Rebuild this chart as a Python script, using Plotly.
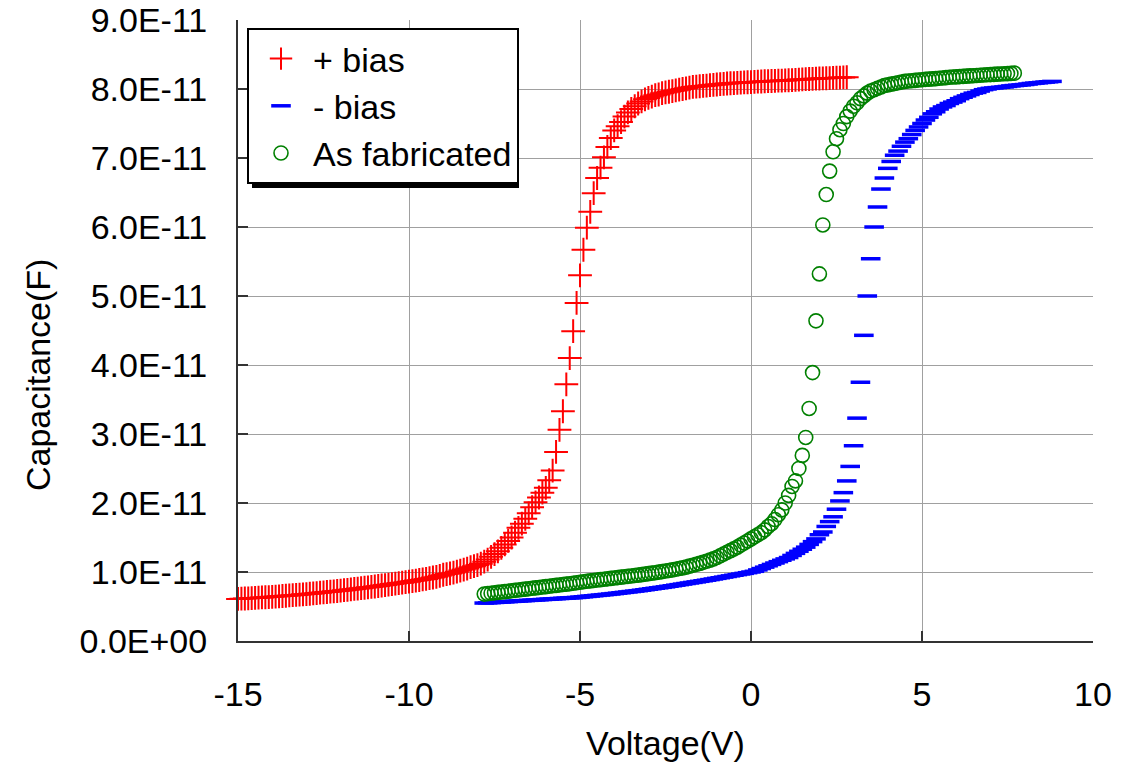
import numpy as np
import plotly.graph_objects as go

# ---------------- data (capacitance in units of 1E-11 F) ----------------
pos_v = [-15.0,-14.9,-14.8,-14.7,-14.6,-14.5,-14.4,-14.3,-14.2,-14.1,
         -14.0,-13.9,-13.8,-13.7,-13.6,-13.5,-13.4,-13.3,-13.2,-13.1,
         -13.0,-12.9,-12.8,-12.7,-12.6,-12.5,-12.4,-12.3,-12.2,-12.1,
         -12.0,-11.9,-11.8,-11.7,-11.6,-11.5,-11.4,-11.3,-11.2,-11.1,
         -11.0,-10.9,-10.8,-10.7,-10.6,-10.5,-10.4,-10.3,-10.2,-10.1,
         -10.0,-9.9,-9.8,-9.7,-9.6,-9.5,-9.4,-9.3,-9.2,-9.1,
         -9.0,-8.9,-8.8,-8.7,-8.6,-8.5,-8.4,-8.3,-8.2,-8.1,
         -8.0,-7.9,-7.8,-7.7,-7.6,-7.5,-7.4,-7.3,-7.2,-7.1,
         -7.0,-6.9,-6.8,-6.7,-6.6,-6.5,-6.4,-6.3,-6.2,-6.1,
         -6.0,-5.9,-5.8,-5.7,-5.6,-5.5,-5.4,-5.3,-5.2,-5.1,
         -5.0,-4.9,-4.8,-4.7,-4.6,-4.5,-4.4,-4.3,-4.2,-4.1,
         -4.0,-3.9,-3.8,-3.7,-3.6,-3.5,-3.4,-3.3,-3.2,-3.1,
         -3.0,-2.9,-2.8,-2.7,-2.6,-2.5,-2.4,-2.3,-2.2,-2.1,
         -2.0,-1.9,-1.8,-1.7,-1.6,-1.5,-1.4,-1.3,-1.2,-1.1,
         -1.0,-0.9,-0.8,-0.7,-0.6,-0.5,-0.4,-0.3,-0.2,-0.1,
         0.0,0.1,0.2,0.3,0.4,0.5,0.6,0.7,0.8,0.9,
         1.0,1.1,1.2,1.3,1.4,1.5,1.6,1.7,1.8,1.9,
         2.0,2.1,2.2,2.3,2.4,2.5,2.6,2.7,2.8]
pos_c = [0.61,0.613,0.616,0.619,0.622,0.625,0.628,0.631,0.634,0.637,
         0.64,0.644,0.648,0.652,0.656,0.66,0.664,0.668,0.672,0.676,
         0.68,0.685,0.69,0.695,0.70,0.705,0.71,0.715,0.72,0.725,
         0.73,0.736,0.742,0.748,0.754,0.76,0.766,0.772,0.778,0.784,
         0.79,0.797,0.804,0.811,0.818,0.825,0.832,0.839,0.846,0.853,
         0.86,0.868,0.876,0.884,0.892,0.90,0.91,0.92,0.93,0.945,
         0.96,0.97,0.98,0.99,1.005,1.02,1.035,1.05,1.07,1.085,
         1.10,1.12,1.15,1.18,1.22,1.26,1.30,1.35,1.40,1.45,
         1.50,1.57,1.64,1.70,1.77,1.85,1.94,2.01,2.08,2.15,
         2.22,2.33,2.47,2.74,3.06,3.33,3.72,4.10,4.49,4.90,
         5.30,5.67,5.99,6.22,6.49,6.71,6.86,7.01,7.16,7.29,
         7.40,7.46,7.52,7.60,7.66,7.71,7.75,7.79,7.82,7.85,
         7.87,7.89,7.91,7.92,7.94,7.95,7.96,7.97,7.98,7.99,
         8.00,8.01,8.02,8.03,8.035,8.04,8.045,8.05,8.055,8.06,
         8.065,8.07,8.075,8.08,8.083,8.086,8.089,8.092,8.095,8.098,
         8.10,8.103,8.106,8.109,8.112,8.114,8.116,8.118,8.12,8.122,
         8.124,8.127,8.13,8.133,8.136,8.139,8.142,8.145,8.148,8.15,
         8.152,8.154,8.156,8.158,8.16,8.163,8.166,8.168,8.17]

neg_v = [-7.8,-7.7,-7.6,-7.5,-7.4,-7.3,-7.2,-7.1,-7.0,-6.9,
         -6.8,-6.7,-6.6,-6.5,-6.4,-6.3,-6.2,-6.1,-6.0,-5.9,
         -5.8,-5.7,-5.6,-5.5,-5.4,-5.3,-5.2,-5.1,-5.0,-4.9,
         -4.8,-4.7,-4.6,-4.5,-4.4,-4.3,-4.2,-4.1,-4.0,-3.9,
         -3.8,-3.7,-3.6,-3.5,-3.4,-3.3,-3.2,-3.1,-3.0,-2.9,
         -2.8,-2.7,-2.6,-2.5,-2.4,-2.3,-2.2,-2.1,-2.0,-1.9,
         -1.8,-1.7,-1.6,-1.5,-1.4,-1.3,-1.2,-1.1,-1.0,-0.9,
         -0.8,-0.7,-0.6,-0.5,-0.4,-0.3,-0.2,-0.1,0.0,0.1,
         0.2,0.3,0.4,0.5,0.6,0.7,0.8,0.9,1.0,1.1,
         1.2,1.3,1.4,1.5,1.6,1.7,1.8,1.9,2.0,2.1,
         2.2,2.3,2.4,2.5,2.6,2.7,2.8,2.9,3.0,3.1,
         3.2,3.3,3.4,3.5,3.6,3.7,3.8,3.9,4.0,4.1,
         4.2,4.3,4.4,4.5,4.6,4.7,4.8,4.9,5.0,5.1,
         5.2,5.3,5.4,5.5,5.6,5.7,5.8,5.9,6.0,6.1,
         6.2,6.3,6.4,6.5,6.6,6.7,6.8,6.9,7.0,7.1,
         7.2,7.3,7.4,7.5,7.6,7.7,7.8,7.9,8.0,8.1,
         8.2,8.3,8.4,8.5,8.6,8.7,8.8]
neg_c = [0.55,0.553,0.556,0.559,0.562,0.565,0.568,0.571,0.574,0.577,
         0.580,0.583,0.586,0.589,0.592,0.595,0.598,0.601,0.604,0.607,
         0.61,0.613,0.616,0.619,0.622,0.625,0.628,0.631,0.636,0.641,
         0.646,0.651,0.656,0.661,0.666,0.671,0.676,0.681,0.687,0.693,
         0.699,0.705,0.711,0.717,0.723,0.729,0.736,0.743,0.75,0.757,
         0.764,0.771,0.778,0.785,0.793,0.801,0.809,0.817,0.825,0.833,
         0.841,0.849,0.857,0.865,0.873,0.881,0.89,0.899,0.908,0.917,
         0.926,0.935,0.944,0.953,0.962,0.971,0.98,0.99,1.0,1.01,
         1.03,1.05,1.07,1.09,1.11,1.13,1.15,1.17,1.19,1.21,
         1.24,1.27,1.30,1.33,1.36,1.40,1.44,1.48,1.54,1.58,
         1.66,1.73,1.80,1.91,2.03,2.15,2.32,2.53,2.83,3.23,
         3.75,4.43,5.00,5.54,6.00,6.29,6.55,6.71,6.85,6.95,
         7.04,7.10,7.17,7.23,7.28,7.34,7.40,7.45,7.50,7.55,
         7.59,7.64,7.67,7.71,7.74,7.76,7.79,7.81,7.83,7.86,
         7.88,7.90,7.92,7.94,7.95,7.97,7.99,8.00,8.01,8.015,
         8.02,8.025,8.03,8.037,8.045,8.05,8.055,8.06,8.065,8.072,
         8.08,8.085,8.09,8.095,8.10,8.105,8.11]

fab_v = [-7.8,-7.7,-7.6,-7.5,-7.4,-7.3,-7.2,-7.1,-7.0,-6.9,
         -6.8,-6.7,-6.6,-6.5,-6.4,-6.3,-6.2,-6.1,-6.0,-5.9,
         -5.8,-5.7,-5.6,-5.5,-5.4,-5.3,-5.2,-5.1,-5.0,-4.9,
         -4.8,-4.7,-4.6,-4.5,-4.4,-4.3,-4.2,-4.1,-4.0,-3.9,
         -3.8,-3.7,-3.6,-3.5,-3.4,-3.3,-3.2,-3.1,-3.0,-2.9,
         -2.8,-2.7,-2.6,-2.5,-2.4,-2.3,-2.2,-2.1,-2.0,-1.9,
         -1.8,-1.7,-1.6,-1.5,-1.4,-1.3,-1.2,-1.1,-1.0,-0.9,
         -0.8,-0.7,-0.6,-0.5,-0.4,-0.3,-0.2,-0.1,0.0,0.1,
         0.2,0.3,0.4,0.5,0.6,0.7,0.8,0.9,1.0,1.1,
         1.2,1.3,1.4,1.5,1.6,1.7,1.8,1.9,2.0,2.1,
         2.2,2.3,2.4,2.5,2.6,2.7,2.8,2.9,3.0,3.1,
         3.2,3.3,3.4,3.5,3.6,3.7,3.8,3.9,4.0,4.1,
         4.2,4.3,4.4,4.5,4.6,4.7,4.8,4.9,5.0,5.1,
         5.2,5.3,5.4,5.5,5.6,5.7,5.8,5.9,6.0,6.1,
         6.2,6.3,6.4,6.5,6.6,6.7,6.8,6.9,7.0,7.1,
         7.2,7.3,7.4,7.5,7.6,7.7]
fab_c = [0.68,0.686,0.692,0.698,0.704,0.71,0.716,0.722,0.728,0.734,
         0.74,0.746,0.752,0.758,0.764,0.77,0.776,0.782,0.788,0.794,
         0.80,0.806,0.812,0.818,0.824,0.83,0.837,0.844,0.851,0.858,
         0.865,0.871,0.877,0.883,0.889,0.895,0.901,0.907,0.913,0.919,
         0.925,0.931,0.937,0.943,0.949,0.955,0.962,0.969,0.976,0.983,
         0.99,0.998,1.006,1.014,1.022,1.031,1.04,1.05,1.06,1.07,
         1.085,1.098,1.111,1.125,1.14,1.155,1.172,1.19,1.21,1.235,
         1.26,1.285,1.31,1.335,1.36,1.39,1.42,1.45,1.48,1.51,
         1.54,1.57,1.61,1.66,1.70,1.76,1.83,1.90,2.00,2.11,
         2.24,2.32,2.50,2.69,2.95,3.37,3.89,4.64,5.32,6.03,
         6.47,6.81,7.09,7.28,7.41,7.50,7.60,7.68,7.75,7.80,
         7.86,7.90,7.94,7.97,7.99,8.01,8.03,8.05,8.06,8.07,
         8.08,8.09,8.10,8.11,8.115,8.12,8.125,8.13,8.135,8.14,
         8.143,8.147,8.15,8.155,8.16,8.165,8.17,8.173,8.176,8.18,
         8.183,8.186,8.19,8.193,8.196,8.20,8.203,8.206,8.209,8.212,
         8.215,8.218,8.22,8.223,8.226,8.23]

x_tick_vals = [-15, -10, -5, 0, 5, 10]
x_tick_text = ["-15", "-10", "-5", "0", "5", "10"]
y_tick_vals = [0, 1e-11, 2e-11, 3e-11, 4e-11, 5e-11, 6e-11, 7e-11, 8e-11, 9e-11]
y_tick_text = ["0.0E+00", "1.0E-11", "2.0E-11", "3.0E-11", "4.0E-11",
               "5.0E-11", "6.0E-11", "7.0E-11", "8.0E-11", "9.0E-11"]

UNIT = 1e-11
FONT = "Liberation Sans, Arial, sans-serif"
FS = 34

fig = go.Figure()
fig.add_trace(go.Scatter(
    x=pos_v, y=np.array(pos_c) * UNIT, mode="markers", name="+ bias",
    cliponaxis=False,
    marker=dict(symbol="cross-thin", size=17, color="#ff0000",
                line=dict(color="#ff0000", width=2))))
fig.add_trace(go.Scatter(
    x=neg_v, y=np.array(neg_c) * UNIT, mode="markers", name="- bias",
    cliponaxis=False,
    marker=dict(symbol="line-ew", size=14, color="#0000ff",
                line=dict(color="#0000ff", width=3.5))))
fig.add_trace(go.Scatter(
    x=fab_v, y=np.array(fab_c) * UNIT, mode="markers", name="As fabricated",
    cliponaxis=False,
    marker=dict(symbol="circle-open", size=14, color="#008000",
                line=dict(color="#008000", width=1.6))))

W, H = 1125, 765
ml, mr, mt, mb = 238, 32, 20, 124
pw, ph = W - ml - mr, H - mt - mb

def px_x(p):
    return (p - ml) / pw

def px_y(p):
    return (H - mb - p) / ph

# legend drop shadow
fig.add_shape(type="rect", xref="paper", yref="paper",
              x0=px_x(252), x1=px_x(519), y0=px_y(188), y1=px_y(33),
              fillcolor="black", line=dict(width=0), layer="above")

# y-axis title (placed slightly below centre, as in the original)
fig.add_annotation(text="Capacitance(F)", xref="paper", yref="paper",
                   x=px_x(38), y=px_y(375), textangle=-90, showarrow=False,
                   xanchor="center", yanchor="middle",
                   font=dict(family=FONT, size=FS, color="black"))

fig.update_layout(
    width=W, height=H,
    margin=dict(l=ml, r=mr, t=mt, b=mb, autoexpand=False),
    paper_bgcolor="white", plot_bgcolor="white",
    font=dict(family=FONT, size=FS, color="black"),
    showlegend=True,
    legend=dict(x=px_x(247), y=px_y(28), xanchor="left", yanchor="top",
                bgcolor="white", bordercolor="black", borderwidth=2,
                font=dict(family=FONT, size=FS, color="black"),
                tracegroupgap=0, itemsizing="trace", itemwidth=54),
    xaxis=dict(range=[-15, 10], tickvals=x_tick_vals, ticktext=x_tick_text,
               ticks="inside", ticklen=10, automargin=False,
               tickwidth=2, tickcolor="#333333", showline=True, linecolor="#333333",
               linewidth=2, showgrid=True, gridcolor="#a0a0a0", gridwidth=1,
               zeroline=False, tickfont=dict(size=FS), ticklabelstandoff=22,
               title=dict(text="Voltage(V)", font=dict(size=FS), standoff=19)),
    yaxis=dict(range=[0, 9e-11], tickvals=y_tick_vals, ticktext=y_tick_text,
               ticks="inside", ticklen=10, tickwidth=2, tickcolor="#333333",
               automargin=False,
               showline=True, linecolor="#333333", linewidth=2,
               showgrid=True, gridcolor="#a0a0a0", gridwidth=1, zeroline=False,
               tickfont=dict(size=FS), ticklabelstandoff=22),
)

fig.write_html("out.html")
